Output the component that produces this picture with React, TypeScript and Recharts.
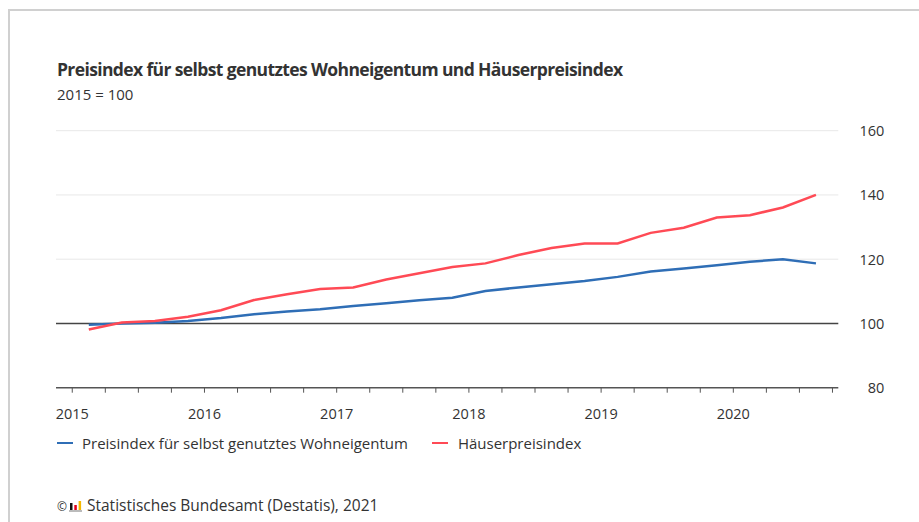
import React from "react";
import { LineChart, Line, XAxis, YAxis, CartesianGrid, ReferenceLine } from "recharts";

const quarters = [
  "2015-Q1", "2015-Q2", "2015-Q3", "2015-Q4",
  "2016-Q1", "2016-Q2", "2016-Q3", "2016-Q4",
  "2017-Q1", "2017-Q2", "2017-Q3", "2017-Q4",
  "2018-Q1", "2018-Q2", "2018-Q3", "2018-Q4",
  "2019-Q1", "2019-Q2", "2019-Q3", "2019-Q4",
  "2020-Q1", "2020-Q2", "2020-Q3",
];
const wohneigentum = [99.6, 100.0, 100.2, 100.8, 101.7, 102.9, 103.7, 104.4, 105.4, 106.3, 107.2, 108.0, 110.1, 111.2, 112.2, 113.2, 114.5, 116.2, 117.1, 118.1, 119.2, 120.0, 118.7];
const haeuser = [98.1, 100.3, 100.8, 102.1, 104.1, 107.3, 109.1, 110.7, 111.2, 113.7, 115.6, 117.6, 118.7, 121.3, 123.5, 124.9, 124.9, 128.2, 129.8, 133.0, 133.7, 136.1, 140.0];
const yearLabels = ["2015", "2016", "2017", "2018", "2019", "2020"];
const yTicks = [80, 100, 120, 140, 160];

const seriesNames = ["Preisindex für selbst genutztes Wohneigentum", "Häuserpreisindex"];
const BLUE = "#2f6eb6";
const RED = "#ff4a55";
const FONT = "'Open Sans', 'Noto Sans', sans-serif";
const TEXT = "#333333";

const data = quarters.map((q, i) => {
  const [y, qq] = q.split("-Q");
  return {
    t: Number(y) + (Number(qq) - 0.5) / 4,
    w: wohneigentum[i],
    h: haeuser[i],
  };
});

const xTicks: number[] = [];
yearLabels.forEach((y) => {
  for (let q = 0; q < 4; q++) xTicks.push(Number(y) + q / 4);
});

const XTick = (props: any) => {
  const { x, y, payload } = props;
  const v = payload.value;
  if (Math.abs(v - Math.round(v)) > 1e-6) return null;
  return (
    <text x={x} y={y + 19} textAnchor="middle" dominantBaseline="central" fill={TEXT} fontSize={14.5} fontFamily={FONT}>
      {String(Math.round(v))}
    </text>
  );
};

const YTick = (props: any) => {
  const { x, y, payload } = props;
  return (
    <text x={x + 46} y={y} textAnchor="end" dominantBaseline="central" fill={TEXT} fontSize={14.5} fontFamily={FONT}>
      {payload.value}
    </text>
  );
};

const Icon = () => (
  <svg width="13" height="12" style={{ verticalAlign: "-1px", marginRight: 5 }}>
    <rect x="0" y="10" width="13" height="2" fill="#bbb" />
    <rect x="1" y="3" width="2.5" height="7" fill="#111" />
    <rect x="5.3" y="5" width="2.5" height="5" fill="#e2001a" />
    <rect x="9.6" y="1" width="2.5" height="9" fill="#f5b800" />
  </svg>
);

export default function App() {
  return (
    <div style={{ position: "absolute", left: 0, top: 0, width: 919, height: 522, background: "#fff", overflow: "hidden", fontFamily: FONT, color: TEXT }}>
      <div style={{ position: "absolute", left: 8, top: 9, width: 1000, height: 1000, borderTop: "2px solid #d0d0d0", borderLeft: "2px solid #d0d0d0" }} />
      <div style={{ position: "absolute", left: 57, top: 57, fontSize: 17.5, fontWeight: 700, letterSpacing: -0.62, whiteSpace: "nowrap" }}>
        Preisindex für selbst genutztes Wohneigentum und Häuserpreisindex
      </div>
      <div style={{ position: "absolute", left: 57, top: 84, fontSize: 15, whiteSpace: "nowrap" }}>2015 = 100</div>
      <div style={{ position: "absolute", left: 0, top: 0 }}>
        <LineChart width={919} height={522} data={data} margin={{ top: 130.7, left: 56, right: 30.7, bottom: 104.3 }}>
          <CartesianGrid horizontal vertical={false} stroke="#e8e8e8" strokeWidth={1} horizontalValues={[120, 140, 160]} />
          <XAxis
            dataKey="t"
            type="number"
            domain={[2014.877, 2020.794]}
            ticks={xTicks}
            height={30}
            interval={0}
            stroke="#555"
            axisLine={{ stroke: "#555", strokeWidth: 1.5 }}
            tickLine={{ stroke: "#555" }}
            tickSize={5}
            tick={<XTick />}
          />
          <YAxis
            orientation="right"
            domain={[80, 160]}
            ticks={yTicks}
            width={50}
            axisLine={false}
            tickLine={false}
            tickSize={0}
            tickMargin={0}
            tick={<YTick />}
          />
          <ReferenceLine y={100} stroke="#444" strokeWidth={1.5} />
          <Line type="linear" dataKey="w" name={seriesNames[0]} stroke={BLUE} strokeWidth={2.5} dot={false} isAnimationActive={false} />
          <Line type="linear" dataKey="h" name={seriesNames[1]} stroke={RED} strokeWidth={2.5} dot={false} isAnimationActive={false} />
        </LineChart>
      </div>
      <div style={{ position: "absolute", left: 57, top: 433, fontSize: 15, whiteSpace: "nowrap", display: "flex", alignItems: "center" }}>
        <span style={{ display: "inline-block", width: 16, height: 2.5, background: BLUE, marginRight: 9 }} />
        <span>{seriesNames[0]}</span>
        <span style={{ display: "inline-block", width: 16, height: 2.5, background: RED, marginLeft: 24, marginRight: 10 }} />
        <span>{seriesNames[1]}</span>
      </div>
      <div style={{ position: "absolute", left: 57, top: 494, fontSize: 15.5, whiteSpace: "nowrap" }}>
        <span style={{ fontSize: 12, marginRight: 2 }}>©</span>
        <Icon />
        Statistisches Bundesamt (Destatis), 2021
      </div>
    </div>
  );
}
